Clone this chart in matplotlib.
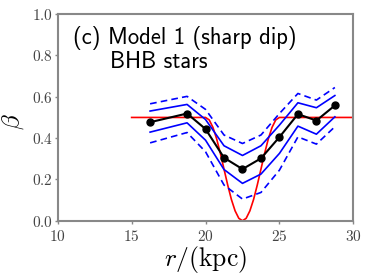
import matplotlib
matplotlib.use("Agg")
import matplotlib.pyplot as plt
from matplotlib.ticker import FuncFormatter

plt.rcParams['mathtext.fontset'] = 'cm'

# binned estimates (BHB stars)
r_bins = [16.25, 18.75, 20.0, 21.25, 22.5, 23.75, 25.0, 26.25, 27.5, 28.75]
beta_med = [0.477, 0.519, 0.444, 0.305, 0.250, 0.302, 0.405, 0.516, 0.485, 0.558]
beta_1s_hi = [0.531, 0.563, 0.490, 0.363, 0.316, 0.363, 0.463, 0.571, 0.547, 0.606]
beta_1s_lo = [0.429, 0.474, 0.390, 0.248, 0.181, 0.226, 0.326, 0.458, 0.419, 0.503]
beta_2s_hi = [0.566, 0.602, 0.539, 0.415, 0.374, 0.415, 0.519, 0.616, 0.584, 0.645]
beta_2s_lo = [0.377, 0.427, 0.334, 0.173, 0.105, 0.137, 0.245, 0.406, 0.371, 0.455]

# true model profile
r_true = [15.0, 20.0, 20.25, 20.5, 20.75, 21.0, 21.25, 21.5, 21.75, 22.0, 22.25,
          22.5, 22.75, 23.0, 23.25, 23.5, 23.75, 24.0, 24.25, 24.5, 24.75, 25.0, 30.0]
beta_true = [0.5, 0.5, 0.488, 0.452, 0.397, 0.327, 0.250, 0.173, 0.103, 0.048, 0.012,
             0.0, 0.012, 0.048, 0.103, 0.173, 0.250, 0.327, 0.397, 0.452, 0.488, 0.5, 0.5]

fig = plt.figure(figsize=(3.7, 2.77), dpi=100)
ax = fig.add_axes([0.156, 0.203, 0.799, 0.746])

ax.plot(r_true, beta_true, color='red', lw=1.2, zorder=2)
ax.plot(r_bins, beta_1s_hi, color='blue', lw=1.2, zorder=3)
ax.plot(r_bins, beta_1s_lo, color='blue', lw=1.2, zorder=3)
ax.plot(r_bins, beta_2s_hi, color='blue', lw=1.2, ls='--', dashes=(4, 2.5), zorder=3)
ax.plot(r_bins, beta_2s_lo, color='blue', lw=1.2, ls='--', dashes=(4, 2.5), zorder=3)
ax.plot(r_bins, beta_med, color='black', lw=1.5, marker='o', ms=5, zorder=4)

ax.set_xlim(10, 30)
ax.set_ylim(0, 1)
ax.set_xticks([10, 15, 20, 25, 30])
ax.set_yticks([0.0, 0.2, 0.4, 0.6, 0.8, 1.0])
ax.xaxis.set_major_formatter(FuncFormatter(lambda v, p: r'$%d$' % v))
ax.yaxis.set_major_formatter(FuncFormatter(lambda v, p: r'$%.1f$' % v))
ax.tick_params(direction='out', length=2, width=1, color='#888888',
               labelsize=11, labelcolor='#444444')
ax.tick_params(axis='x', pad=4)
ax.tick_params(axis='y', pad=1.5)
for s in ax.spines.values():
    s.set_color('#888888')
    s.set_linewidth(1.5)

ax.set_xlabel(r'$r/(\mathrm{kpc})$', fontsize=18.5)
ax.xaxis.set_label_coords(0.5, -0.112)
ax.xaxis.label.set_va('top')
ax.set_ylabel(r'$\beta$', fontsize=18)
ax.yaxis.set_label_coords(-0.152, 0.48)
ax.yaxis.label.set_va('center')

ax.text(0.053, 0.855, '(c) Model 1 (sharp dip)', transform=ax.transAxes,
        fontsize=16.3, family='cmss10', va='baseline', ha='left')
ax.text(0.177, 0.739, 'BHB stars', transform=ax.transAxes,
        fontsize=16.3, family='cmss10', va='baseline', ha='left')

fig.savefig('out.png', dpi=100)
